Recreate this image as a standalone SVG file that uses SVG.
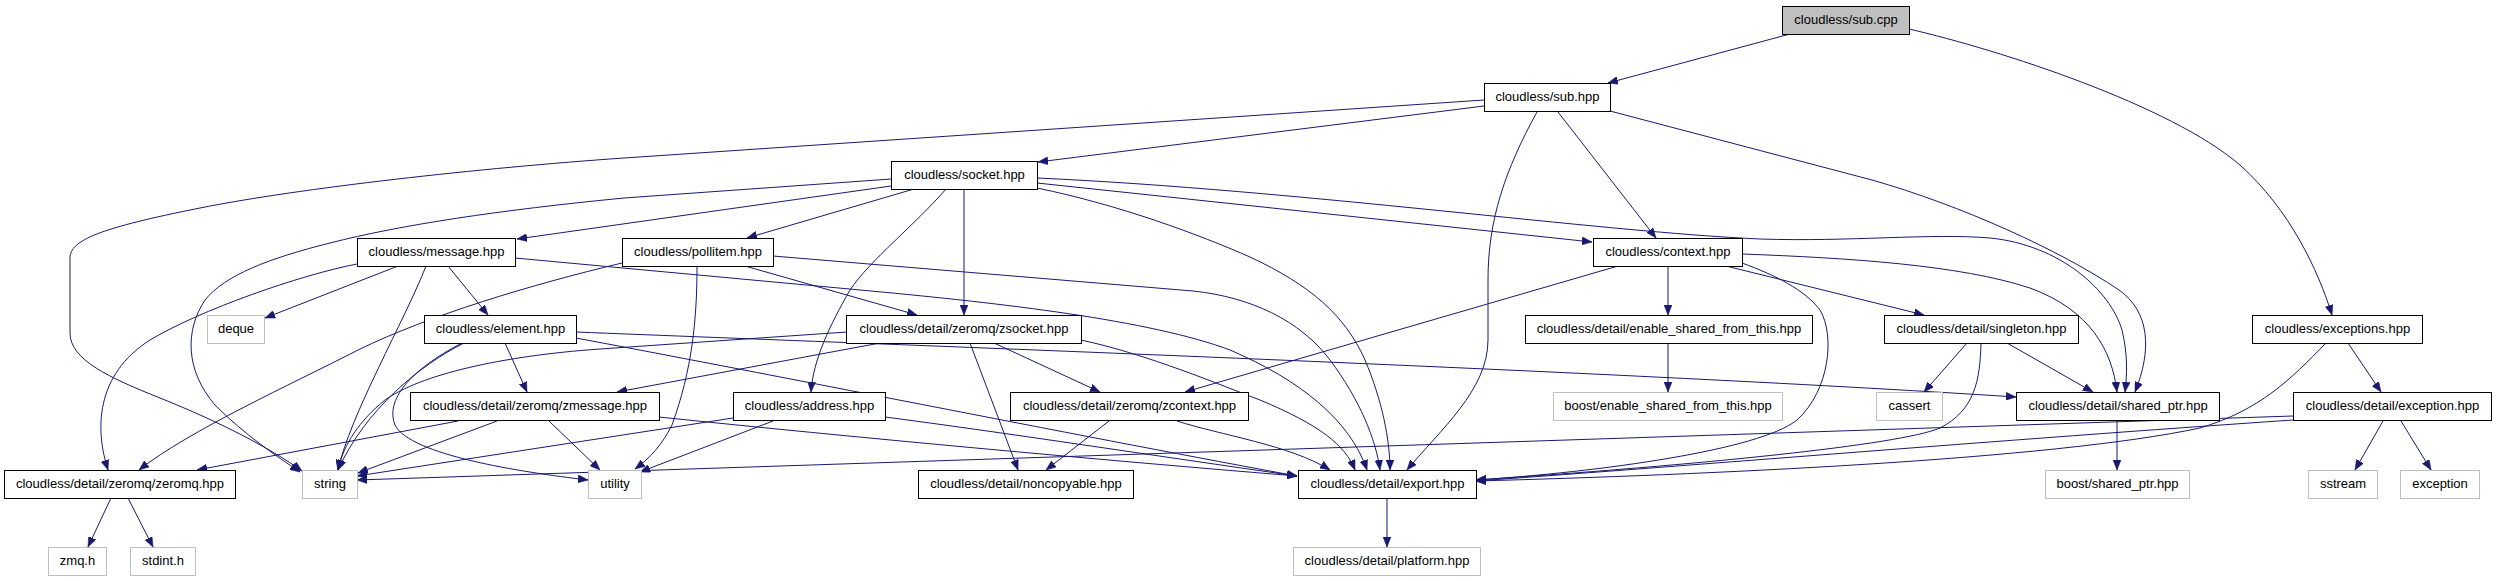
<svg xmlns="http://www.w3.org/2000/svg" width="2496" height="581" viewBox="0 0 2496 581">
<defs>
<marker id="arr" viewBox="0 0 10 8" refX="10" refY="4" markerWidth="10" markerHeight="8" markerUnits="userSpaceOnUse" orient="auto">
<path d="M0,0 L10,4 L0,8 z" fill="#191970" stroke="#191970" stroke-width="0.5"/>
</marker>
</defs>
<style>
.n rect{fill:#ffffff;stroke:#000000;stroke-width:1}
.x rect{fill:#ffffff;stroke:#bfbfbf;stroke-width:1}
.r rect{fill:#bfbfbf;stroke:#000000;stroke-width:1}
text{font-family:"Liberation Sans",Arial,Helvetica,sans-serif;font-size:13px;fill:#000;text-anchor:middle}
#edges path{fill:none;stroke:#191970;stroke-width:1;marker-end:url(#arr)}
</style>
<rect width="2496" height="581" fill="#ffffff"/>
<g id="edges">
<path d="M1790,34 L1608,83"/>
<path d="M1909,29 C2000,50 2170,105 2240,165 C2290,210 2318,270 2332,315"/>
<path d="M1484,106 L1038,162"/>
<path d="M1484,100 L624,158 C480,168 300,188 200,208 C100,228 70,240 70,258 L70,333 C70,360 110,378 160,398 C220,422 270,448 302,471"/>
<path d="M1558,112 L1656,238"/>
<path d="M1537,112 C1505,170 1488,220 1488,280 L1488,340 C1488,390 1440,430 1407,470"/>
<path d="M1610,111 L1872,180 C1960,205 2060,250 2119,290 C2150,312 2152,350 2135,392"/>
<path d="M891,186 L517,239"/>
<path d="M914,189 L747,238"/>
<path d="M964,189 L964,315"/>
<path d="M946,189 C915,225 870,260 850,290 C830,325 813,360 811,392"/>
<path d="M1037,183 L1592,242"/>
<path d="M891,179 L624,198 C500,210 400,225 330,243 C270,258 225,275 205,300 C185,330 185,370 215,405 C245,435 275,455 300,472"/>
<path d="M1037,188 C1120,205 1200,235 1250,257 C1310,285 1345,315 1365,360 C1382,400 1390,440 1390,470"/>
<path d="M1037,178 C1300,190 1600,232 1760,239 C1850,242 1930,233 1990,238 C2060,245 2110,290 2122,330 C2128,355 2127,375 2125,392"/>
<path d="M398,266 L265,318"/>
<path d="M448,266 L488,315"/>
<path d="M426,266 C405,320 350,415 338,470"/>
<path d="M357,264 C300,275 200,310 150,340 C95,375 95,430 108,470"/>
<path d="M515,258 L871,291 C1000,303 1150,320 1230,350 C1300,380 1350,420 1367,470"/>
<path d="M745,266 L917,315"/>
<path d="M622,263 C530,285 430,315 358,350 C290,385 190,430 139,470"/>
<path d="M697,266 C697,320 692,370 672,425 C662,445 650,458 635,469"/>
<path d="M773,256 L1193,291 C1250,297 1300,320 1330,360 C1360,400 1376,440 1380,470"/>
<path d="M1618,266 L1185,392"/>
<path d="M1668,266 L1668,315"/>
<path d="M1726,266 L1924,315"/>
<path d="M1742,254 C1850,258 1960,265 2030,288 C2090,310 2112,350 2117,392"/>
<path d="M1742,263 C1775,275 1805,290 1820,310 C1835,335 1830,390 1797,420 C1760,450 1600,472 1476,480"/>
<path d="M505,343 L527,392"/>
<path d="M464,343 C420,365 365,410 338,470"/>
<path d="M462,343 C410,370 385,400 395,425 C410,455 520,472 588,480"/>
<path d="M576,338 C800,380 1100,440 1297,476"/>
<path d="M576,332 C900,345 1600,370 2016,397"/>
<path d="M880,343 L617,392"/>
<path d="M994,343 L1100,392"/>
<path d="M970,343 L1018,470"/>
<path d="M847,332 L600,349 C500,356 420,375 385,400 C360,420 343,445 338,470"/>
<path d="M1081,340 C1150,355 1220,385 1260,400 C1320,425 1345,445 1355,470"/>
<path d="M458,421 L197,470"/>
<path d="M497,421 L358,473"/>
<path d="M549,421 L600,470"/>
<path d="M659,417 C850,437 1100,460 1297,476"/>
<path d="M733,418 L357,476"/>
<path d="M773,421 L640,472"/>
<path d="M885,417 C1000,432 1150,455 1297,476"/>
<path d="M1109,421 L1046,470"/>
<path d="M1177,421 C1220,435 1290,445 1330,470"/>
<path d="M1668,343 L1668,392"/>
<path d="M1967,343 L1924,392"/>
<path d="M2007,343 L2093,392"/>
<path d="M1981,343 C1980,380 1975,410 1940,428 C1900,445 1700,465 1476,480"/>
<path d="M2117,420 L2117,470"/>
<path d="M2348,343 L2381,392"/>
<path d="M2326,343 C2290,380 2260,410 2200,428 C2050,460 1700,475 1476,481"/>
<path d="M2293,416 L357,480"/>
<path d="M2293,420 C2000,440 1700,465 1476,481"/>
<path d="M2383,421 L2355,470"/>
<path d="M2401,421 L2431,470"/>
<path d="M1387,498 L1387,547"/>
<path d="M111,498 L88,547"/>
<path d="M128,498 L153,547"/>
</g>
<g id="n_subcpp" class="r"><rect x="1782.5" y="6.5" width="127" height="28"/><text x="1846" y="24">cloudless/sub.cpp</text></g>
<g id="n_subhpp" class="n"><rect x="1484.5" y="83.5" width="126" height="28"/><text x="1547.5" y="101">cloudless/sub.hpp</text></g>
<g id="n_socket" class="n"><rect x="891.5" y="161.5" width="146" height="28"/><text x="964.5" y="179">cloudless/socket.hpp</text></g>
<g id="n_message" class="n"><rect x="357.5" y="238.5" width="158" height="28"/><text x="436.5" y="256">cloudless/message.hpp</text></g>
<g id="n_pollitem" class="n"><rect x="622.5" y="238.5" width="151" height="28"/><text x="698" y="256">cloudless/pollitem.hpp</text></g>
<g id="n_context" class="n"><rect x="1593.5" y="238.5" width="149" height="28"/><text x="1668" y="256">cloudless/context.hpp</text></g>
<g id="n_deque" class="x"><rect x="207.5" y="315.5" width="57" height="28"/><text x="236" y="333">deque</text></g>
<g id="n_element" class="n"><rect x="424.5" y="315.5" width="152" height="28"/><text x="500.5" y="333">cloudless/element.hpp</text></g>
<g id="n_zsocket" class="n"><rect x="846.5" y="315.5" width="235" height="28"/><text x="964" y="333">cloudless/detail/zeromq/zsocket.hpp</text></g>
<g id="n_esft" class="n"><rect x="1525.5" y="315.5" width="287" height="28"/><text x="1669" y="333">cloudless/detail/enable_shared_from_this.hpp</text></g>
<g id="n_singleton" class="n"><rect x="1884.5" y="315.5" width="194" height="28"/><text x="1981.5" y="333">cloudless/detail/singleton.hpp</text></g>
<g id="n_exceptions" class="n"><rect x="2252.5" y="315.5" width="170" height="28"/><text x="2337.5" y="333">cloudless/exceptions.hpp</text></g>
<g id="n_zmessage" class="n"><rect x="410.5" y="392.5" width="249" height="28"/><text x="535" y="410">cloudless/detail/zeromq/zmessage.hpp</text></g>
<g id="n_address" class="n"><rect x="733.5" y="392.5" width="152" height="28"/><text x="809.5" y="410">cloudless/address.hpp</text></g>
<g id="n_zcontext" class="n"><rect x="1010.5" y="392.5" width="238" height="28"/><text x="1129.5" y="410">cloudless/detail/zeromq/zcontext.hpp</text></g>
<g id="n_boostesft" class="x"><rect x="1553.5" y="392.5" width="229" height="28"/><text x="1668" y="410">boost/enable_shared_from_this.hpp</text></g>
<g id="n_cassert" class="x"><rect x="1876.5" y="392.5" width="66" height="28"/><text x="1909.5" y="410">cassert</text></g>
<g id="n_sharedptr" class="n"><rect x="2016.5" y="392.5" width="203" height="28"/><text x="2118" y="410">cloudless/detail/shared_ptr.hpp</text></g>
<g id="n_exceptionhpp" class="n"><rect x="2293.5" y="392.5" width="198" height="28"/><text x="2392.5" y="410">cloudless/detail/exception.hpp</text></g>
<g id="n_zeromq" class="n"><rect x="4.5" y="470.5" width="231" height="28"/><text x="120" y="488">cloudless/detail/zeromq/zeromq.hpp</text></g>
<g id="n_string" class="x"><rect x="302.5" y="470.5" width="55" height="28"/><text x="330" y="488">string</text></g>
<g id="n_utility" class="x"><rect x="588.5" y="470.5" width="53" height="28"/><text x="615" y="488">utility</text></g>
<g id="n_noncopyable" class="n"><rect x="918.5" y="470.5" width="215" height="28"/><text x="1026" y="488">cloudless/detail/noncopyable.hpp</text></g>
<g id="n_export" class="n"><rect x="1298.5" y="470.5" width="178" height="28"/><text x="1387.5" y="488">cloudless/detail/export.hpp</text></g>
<g id="n_boostsp" class="x"><rect x="2045.5" y="470.5" width="144" height="28"/><text x="2117.5" y="488">boost/shared_ptr.hpp</text></g>
<g id="n_sstream" class="x"><rect x="2308.5" y="470.5" width="69" height="28"/><text x="2343" y="488">sstream</text></g>
<g id="n_exception" class="x"><rect x="2400.5" y="470.5" width="79" height="28"/><text x="2440" y="488">exception</text></g>
<g id="n_zmqh" class="x"><rect x="48.5" y="547.5" width="58" height="28"/><text x="77.5" y="565">zmq.h</text></g>
<g id="n_stdint" class="x"><rect x="130.5" y="547.5" width="65" height="28"/><text x="163" y="565">stdint.h</text></g>
<g id="n_platform" class="x"><rect x="1293.5" y="547.5" width="187" height="28"/><text x="1387" y="565">cloudless/detail/platform.hpp</text></g>
</svg>
